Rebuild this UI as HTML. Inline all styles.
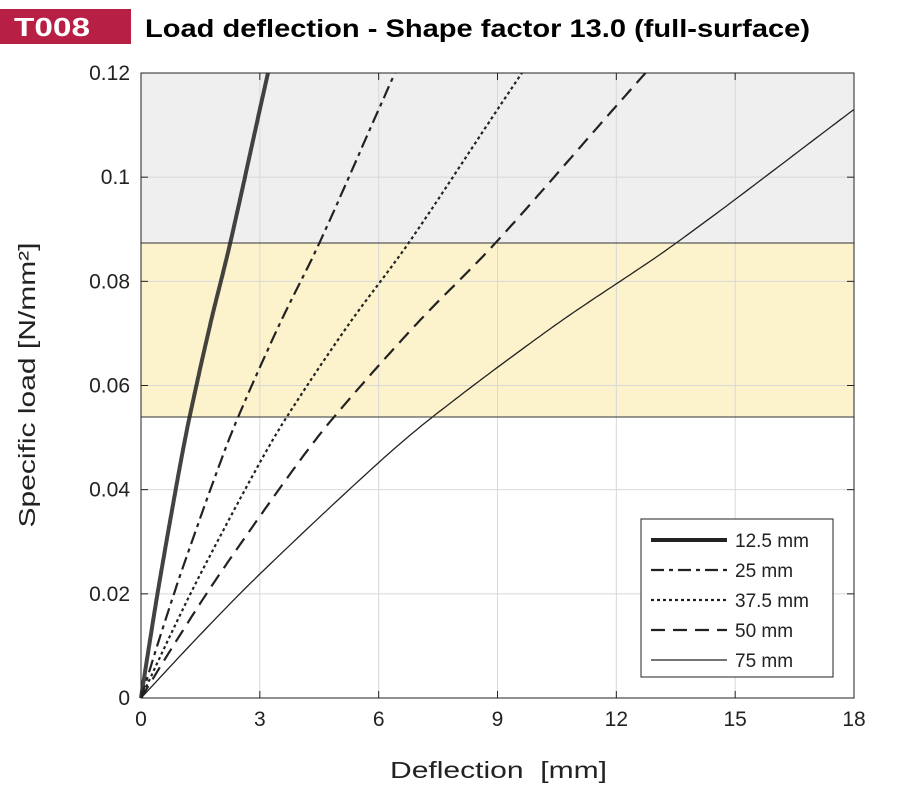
<!DOCTYPE html>
<html><head><meta charset="utf-8"><style>
body{margin:0;background:#fff;}
svg{display:block;font-family:"Liberation Sans",sans-serif;}
</style></head><body>
<svg id="s" width="920" height="800" xmlns="http://www.w3.org/2000/svg">
<rect x="0" y="9" width="131" height="35" fill="#b71f45"/>
<text x="14" y="36" font-size="26" font-weight="bold" fill="#fff" textLength="76" lengthAdjust="spacingAndGlyphs">T008</text>
<text x="145" y="37" font-size="25" font-weight="bold" fill="#000" textLength="665" lengthAdjust="spacingAndGlyphs">Load deflection - Shape factor 13.0 (full-surface)</text>
<rect x="141" y="73" width="713" height="170" fill="#efefef"/>
<rect x="141" y="243" width="713" height="174" fill="#fcf3cc"/>
<g id="grid" stroke="#d8d8d8" stroke-width="1"></g>
<line x1="141" y1="243" x2="854" y2="243" stroke="#333" stroke-width="1"/>
<line x1="141" y1="417" x2="854" y2="417" stroke="#333" stroke-width="1"/>
<g id="curves" fill="none" stroke="#222"></g>
<rect x="141" y="73" width="713" height="625" fill="none" stroke="#222" stroke-width="1"/>
<g id="ticks" stroke="#222"></g>
<g id="labels" font-size="21" fill="#222"></g>
<text transform="translate(35,385) rotate(-90)" font-size="23" fill="#222" text-anchor="middle" textLength="285" lengthAdjust="spacingAndGlyphs">Specific load [N/mm²]</text>
<text x="390" y="778" font-size="23" fill="#222" textLength="217" lengthAdjust="spacingAndGlyphs" xml:space="preserve">Deflection  [mm]</text>
<rect x="641" y="519" width="192" height="158" fill="#fff" stroke="#222" stroke-width="1"/>
<g id="leg" font-size="19" fill="#222"></g>
</svg>
<script>
var NS="http://www.w3.org/2000/svg";
function el(p,t,a,txt){var e=document.createElementNS(NS,t);for(var k in a)e.setAttribute(k,a[k]);if(txt)e.textContent=txt;document.getElementById(p).appendChild(e);return e;}
function X(x){return 141+x*713/18;} function Y(y){return 698-y*625/0.12;}
for(var i=1;i<6;i++){el("grid","line",{x1:X(i*3),x2:X(i*3),y1:73,y2:698});}
for(var j=1;j<6;j++){el("grid","line",{x1:141,x2:854,y1:Y(j*0.02),y2:Y(j*0.02)});}
for(var i=0;i<=6;i++){var x=X(i*3);el("ticks","line",{x1:x,x2:x,y1:698,y2:691});el("ticks","line",{x1:x,x2:x,y1:73,y2:80});
el("labels","text",{x:x,y:726,"text-anchor":"middle"},String(i*3));}
var yl=["0","0.02","0.04","0.06","0.08","0.1","0.12"];
for(var j=0;j<=6;j++){var y=Y(j*0.02);el("ticks","line",{x1:141,x2:148,y1:y,y2:y});el("ticks","line",{x1:854,x2:847,y1:y,y2:y});
el("labels","text",{x:130,y:y+7,"text-anchor":"end"},yl[j]);}
var B=[[0,0],[1.5,0.0122],[3,0.0238],[6,0.0452],[7.5,0.0548],[10.5,0.0718],[13.5,0.0873],[18,0.113],[19.23,0.12]];
function interp(x){for(var i=1;i<B.length;i++){if(x<=B[i][0]){var p0=B[Math.max(i-2,0)],p1=B[i-1],p2=B[i],p3=B[Math.min(i+1,B.length-1)];
var t=(x-p1[0])/(p2[0]-p1[0]);var m1=(p2[1]-p0[1])/(p2[0]-p0[0]||1)*(p2[0]-p1[0]),m2=(p3[1]-p1[1])/(p3[0]-p1[0]||1)*(p2[0]-p1[0]);
var t2=t*t,t3=t2*t;return (2*t3-3*t2+1)*p1[1]+(t3-2*t2+t)*m1+(-2*t3+3*t2)*p2[1]+(t3-t2)*m2;}}return 0.12;}
var S=[[6.0,4,"",0.85,"12.5 mm"],[3.0,2.2,"13 5 4 5",1,"25 mm"],[2.0,2.2,"3 3",1,"37.5 mm"],[1.51,2.2,"14 8",1,"50 mm"],[1,1.3,"",1,"75 mm"]];
S.forEach(function(s,k){var d="M141,698";var xmax=Math.min(19.23/s[0],18);
for(var n=1;n<=150;n++){var x=n/150*xmax;var y=interp(x*s[0]);d+=" L"+X(x).toFixed(1)+","+Y(y).toFixed(1);}
var a={d:d,"stroke-width":s[1],opacity:s[3],"stroke-linejoin":"round"};if(s[2])a["stroke-dasharray"]=s[2];el("curves","path",a);
var ly=540+k*30;var b={x1:651,x2:727,y1:ly,y2:ly,stroke:"#222","stroke-width":s[1]};if(s[2])b["stroke-dasharray"]=s[2];el("leg","line",b);
el("leg","text",{x:735,y:ly+7},s[4]);});
</script>
</body></html>
